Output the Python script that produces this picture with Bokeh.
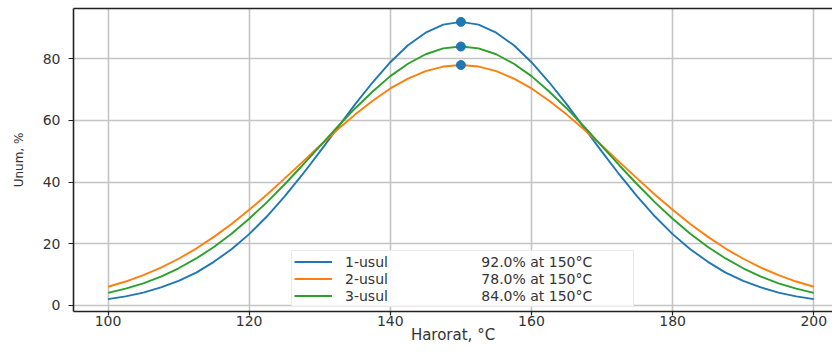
from bokeh.plotting import figure
from bokeh.models import Range1d, Legend, LegendItem, FixedTicker, LinearAxis
from bokeh.embed import file_html
from bokeh.resources import INLINE

# Temperature (°C)
temps = [100, 102.5, 105, 107.5, 110, 112.5, 115, 117.5, 120, 122.5, 125, 127.5,
         130, 132.5, 135, 137.5, 140, 142.5, 145, 147.5, 150, 152.5, 155, 157.5,
         160, 162.5, 165, 167.5, 170, 172.5, 175, 177.5, 180, 182.5, 185, 187.5,
         190, 192.5, 195, 197.5, 200]

half1 = [2.0, 2.9, 4.1, 5.8, 7.9, 10.6, 14.1, 18.2, 23.1, 28.8, 35.3, 42.3,
         49.8, 57.5, 65.2, 72.4, 78.9, 84.4, 88.5, 91.1]
half2 = [6.0, 7.7, 9.8, 12.2, 15.1, 18.4, 22.2, 26.4, 31.0, 35.9, 41.1, 46.4,
         51.8, 57.0, 61.9, 66.4, 70.4, 73.6, 76.0, 77.5]
half3 = [4.0, 5.4, 7.1, 9.3, 12.0, 15.2, 18.9, 23.2, 28.1, 33.4, 39.2, 45.3,
         51.6, 57.9, 63.9, 69.4, 74.4, 78.4, 81.5, 83.4]

usul1 = half1 + [92.0] + half1[::-1]
usul2 = half2 + [78.0] + half2[::-1]
usul3 = half3 + [84.0] + half3[::-1]

series_names = ["1-usul", "2-usul", "3-usul"]
peak_texts = ["92.0% at 150°C", "78.0% at 150°C", "84.0% at 150°C"]
peak_x = [150, 150, 150]
peak_y = [92.0, 78.0, 84.0]

x_ticks = [100, 120, 140, 160, 180, 200]
y_ticks = [0, 20, 40, 60, 80]

colors = ["#1f77b4", "#ff7f0e", "#2ca02c"]
FONT = "DejaVu Sans"

p = figure(width=832, height=346, output_backend="svg", toolbar_location=None,
           x_range=Range1d(95.11, 202.65), y_range=Range1d(-2.03, 96.35),
           min_border_left=73, min_border_right=0, min_border_top=8,
           min_border_bottom=33)

p.background_fill_color = "white"
p.border_fill_color = "white"
p.outline_line_color = None

for ax in (p.xaxis[0], p.yaxis[0]):
    ax.axis_line_color = "#222222"
    ax.axis_line_width = 1.6
    ax.major_tick_line_color = "#222222"
    ax.major_tick_line_width = 1.2
    ax.major_tick_in = 0
    ax.minor_tick_line_color = None
    ax.major_label_text_font = FONT
    ax.major_label_text_font_size = "14px"
    ax.major_label_text_color = "#333333"
    ax.axis_label_text_font = FONT
    ax.axis_label_text_font_style = "normal"
    ax.axis_label_text_color = "#333333"

p.xaxis[0].ticker = FixedTicker(ticks=x_ticks)
p.yaxis[0].ticker = FixedTicker(ticks=y_ticks)
p.xaxis[0].axis_label = "Harorat, °C"
p.yaxis[0].axis_label = "Unum, %"
p.xaxis[0].axis_label_text_font_size = "15px"
p.yaxis[0].axis_label_text_font_size = "12px"
p.xaxis[0].major_tick_out = 4
p.xaxis[0].major_label_standoff = 0
p.xaxis[0].axis_label_standoff = -3
p.yaxis[0].major_tick_out = 5
p.yaxis[0].major_label_standoff = 8
p.yaxis[0].axis_label_standoff = 14

# top spine only (right spine is outside the picture)
top_axis = LinearAxis(ticker=FixedTicker(ticks=[]), major_label_text_font_size="0px",
                      major_tick_out=0, major_tick_in=0, major_label_standoff=0,
                      axis_line_color="#222222", axis_line_width=1.6,
                      minor_tick_line_color=None)
p.add_layout(top_axis, "above")

p.xgrid.ticker = FixedTicker(ticks=x_ticks)
p.ygrid.ticker = FixedTicker(ticks=y_ticks)
for g in (p.xgrid[0], p.ygrid[0]):
    g.grid_line_color = "#c4c4c4"
    g.grid_line_width = 1.6

renderers = []
for ys, c in zip([usul1, usul2, usul3], colors):
    r = p.line(temps, ys, line_color=c, line_width=1.9)
    renderers.append(r)

p.scatter(peak_x, peak_y, size=9, color="#1f77b4")

gap = "\u00a0" * 21
items = [LegendItem(label=f"{n}{gap}{t}", renderers=[r])
         for n, t, r in zip(series_names, peak_texts, renderers)]
legend = Legend(items=items, location=(218, 4), orientation="vertical",
                label_text_font=FONT, label_text_font_size="14px",
                label_text_color="#333333",
                glyph_width=38, glyph_height=17, label_height=17,
                label_width=286,
                label_standoff=13, spacing=0, padding=2, margin=0,
                border_line_color="#d6d6d6", border_line_width=1.2,
                background_fill_alpha=0.85)
p.add_layout(legend, "center")

open("out.html", "w").write(file_html(p, INLINE))
